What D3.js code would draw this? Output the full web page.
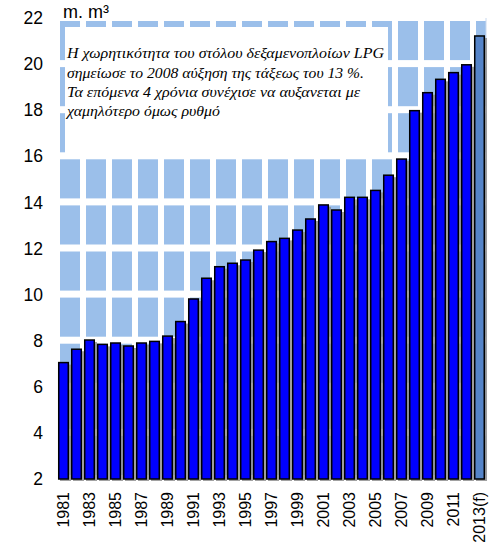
<!DOCTYPE html>
<html><head><meta charset="utf-8">
<script src="https://cdn.jsdelivr.net/npm/d3@7"></script>
<style>body{margin:0;background:#fff}svg{display:block}</style>
</head><body><svg id="c" width="503" height="555"></svg>
<script>
const years = ["1981","1982","1983","1984","1985","1986","1987","1988","1989","1990","1991","1992","1993","1994","1995","1996","1997","1998","1999","2000","2001","2002","2003","2004","2005","2006","2007","2008","2009","2010","2011","2012","2013(f)"];
const capacity = [7.05,7.63,8.03,7.84,7.9,7.77,7.9,7.97,8.2,8.83,9.81,10.71,11.21,11.36,11.5,11.93,12.3,12.44,12.8,13.28,13.89,13.67,14.22,14.22,14.52,15.18,15.88,17.98,18.76,19.34,19.63,19.97,21.22];
const forecast = ["2013(f)"];
const yTicks = [2,4,6,8,10,12,14,16,18,20,22];
const xTickLabels = years.filter((d,i)=>i%2===0);
const unitLabel = "m. m³";
const noteLines = [
 "Η χωρητικότητα του στόλου δεξαμενοπλοίων LPG",
 "σημείωσε το 2008 αύξηση της τάξεως του 13 %.",
 "Τα επόμενα 4 χρόνια συνέχισε να αυξανεται με",
 "χαμηλότερο όμως ρυθμό"
];

const svg = d3.select("#c");
const x = d3.scaleBand().domain(years).range([57,486]).paddingInner(0.15).paddingOuter(0.075);
const y = d3.scaleLinear().domain([2,22]).range([479,18]);
const step = x.step();
const x0 = 57, x1 = 486;

// background grid cells
const cells = svg.append("g");
const nCols = Math.ceil(years.length/2);
for (let r=0;r<yTicks.length-1;r++){
  const top = y(yTicks[r+1])+3, bot = y(yTicks[r])-4;
  for (let c=0;c<nCols;c++){
    const l = x0 + c*2*step + 3;
    const rr = Math.min(x0 + (c+1)*2*step - 3, x1);
    cells.append("rect").attr("x",l).attr("y",top).attr("width",rr-l).attr("height",bot-top).attr("fill","#9bbfea");
  }
}
svg.append("line").attr("x1",x1).attr("x2",x1).attr("y1",y(22)).attr("y2",y(2)).attr("stroke","#c8d8ee").attr("stroke-width",1);

// note box
svg.append("rect").attr("x",65).attr("y",27).attr("width",323).attr("height",126).attr("fill","#fff");
const lineWidths = [317,297,293,153];
const nt = svg.append("text").attr("font-family","'Liberation Serif','Times New Roman',serif").attr("font-style","italic").attr("font-size",15).attr("fill","#000");
noteLines.forEach((t,i)=>nt.append("tspan").attr("x",67).attr("y",58.3+i*19.2)
  .attr("textLength",lineWidths[i]).attr("lengthAdjust","spacingAndGlyphs").text(t));

// bars
const bars = svg.append("g");
bars.selectAll(".sh").data(years).join("rect")
  .attr("x",d=>x(d)+2).attr("y",(d,i)=>y(capacity[i])+2)
  .attr("width",x.bandwidth()).attr("height",(d,i)=>y(2)-y(capacity[i]))
  .attr("fill","#8a8a8a").attr("opacity",0.8);
bars.selectAll(".b").data(years).join("rect")
  .attr("x",d=>x(d)+0.75).attr("y",(d,i)=>y(capacity[i]))
  .attr("width",x.bandwidth()-1.5).attr("height",(d,i)=>y(2)-y(capacity[i]))
  .attr("fill",d=>forecast.includes(d)?"#5584c8":"#0000ff")
  .attr("stroke","#000").attr("stroke-width",1.5);

// y axis
const ya = svg.append("g").attr("transform","translate(58,0)")
  .call(d3.axisLeft(y).tickValues(yTicks).tickSize(0).tickPadding(15));
ya.select(".domain").remove();
ya.selectAll("text").attr("font-family","'Liberation Sans',Arial,sans-serif").attr("font-size",17.5).attr("fill","#000");

// x axis
const xa = svg.append("g").attr("transform",`translate(0,${y(2)})`)
  .call(d3.axisBottom(x).tickValues(xTickLabels).tickSize(0).tickPadding(0));
xa.select(".domain").remove();
xa.selectAll("text").attr("font-family","'Liberation Sans',Arial,sans-serif").attr("font-size",16).attr("fill","#000")
  .attr("text-anchor","end").attr("transform","rotate(-90)").attr("x",-13).attr("y",0).attr("dy","0.36em");

// unit label
svg.append("text").attr("x",63).attr("y",18).attr("font-family","'Liberation Sans',Arial,sans-serif").attr("font-size",18).attr("fill","#000").text(unitLabel);
</script></body></html>
